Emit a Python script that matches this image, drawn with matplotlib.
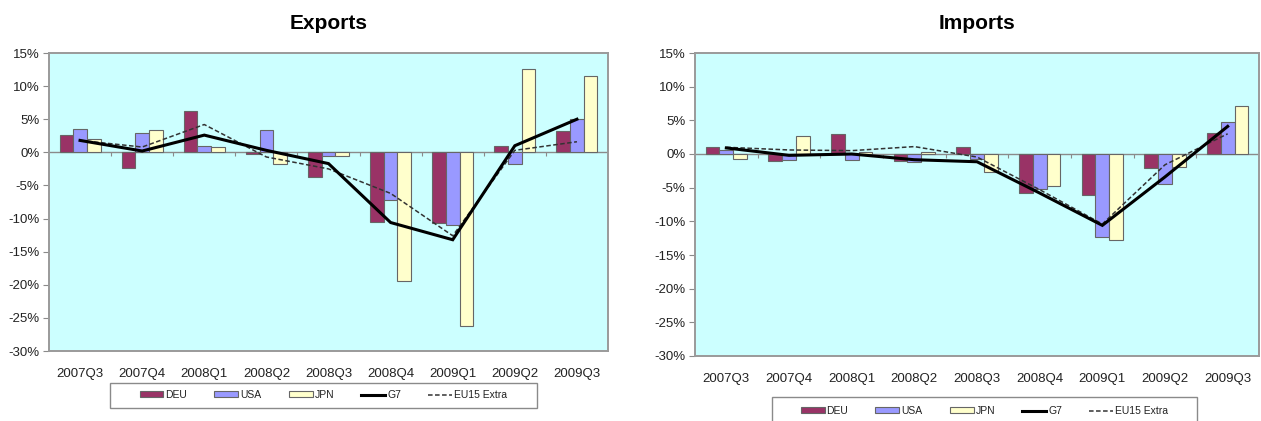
import matplotlib
matplotlib.use("Agg")
import matplotlib.pyplot as plt
from matplotlib.patches import Rectangle, Patch
from matplotlib.lines import Line2D
from matplotlib.ticker import FuncFormatter
import numpy as np

plt.rcParams["font.family"] = ["Liberation Sans", "DejaVu Sans"]

quarters = ["2007Q3", "2007Q4", "2008Q1", "2008Q2", "2008Q3",
            "2008Q4", "2009Q1", "2009Q2", "2009Q3"]

# Quarter-on-quarter growth, per cent
exp_deu = [2.6, -2.3, 6.3, -0.2, -3.7, -10.5, -10.7, 0.9, 3.2]
exp_usa = [3.5, 2.9, 1.0, 3.3, -0.5, -7.2, -10.9, -1.7, 5.0]
exp_jpn = [2.0, 3.3, 0.8, -1.8, -0.55, -19.4, -26.3, 12.6, 11.6]
exp_g7 = [1.8, 0.2, 2.6, 0.3, -1.7, -10.6, -13.2, 1.0, 5.0]
exp_eu15 = [1.8, 0.8, 4.2, -0.7, -2.5, -6.2, -12.6, 0.3, 1.6]

imp_deu = [1.0, -1.0, 3.0, -1.0, 1.1, -5.8, -6.1, -2.1, 3.1]
imp_usa = [0.6, -0.9, -0.9, -1.2, -0.7, -5.2, -12.3, -4.4, 4.75]
imp_jpn = [-0.7, 2.7, 0.25, 0.25, -2.7, -4.8, -12.7, -1.9, 7.2]
imp_g7 = [0.9, -0.2, 0.0, -0.85, -1.15, -5.8, -10.6, -3.4, 4.1]
imp_eu15 = [1.0, 0.6, 0.5, 1.1, -0.45, -5.3, -10.4, -1.6, 3.0]

C_DEU = "#993366"
C_USA = "#9999FF"
C_JPN = "#FFFFCC"
BG = "#CCFFFF"
FRAME = "#9a9a9a"
TXT = "#222222"

W, H = 1261, 421
fig = plt.figure(figsize=(W / 100, H / 100), dpi=100)


def fx(px):
    return px / W


def fy(py):
    return 1 - py / H


def panel(rect, title, deu, usa, jpn, g7, eu15):
    ax = fig.add_axes(rect)
    ax.set_facecolor(BG)
    x = np.arange(len(quarters))
    bw = 0.22
    for off, vals, col in ((-bw, deu, C_DEU), (0, usa, C_USA), (bw, jpn, C_JPN)):
        ax.bar(x + off, vals, width=bw, color=col, edgecolor="#666666",
               linewidth=0.8, zorder=3)
    ax.axhline(0, color="#8a8a8a", lw=1.0, zorder=2)
    ax.vlines(x[:-1] + 0.5, -0.55, 0, color="#8a8a8a", lw=0.8, zorder=2)
    ax.plot(x, g7, color="black", lw=2.2, zorder=5, solid_joinstyle="miter")
    ax.plot(x, eu15, color="#333333", lw=1.1, ls=(0, (3, 1.6)), zorder=4)
    ax.set_xlim(-0.5, len(quarters) - 0.5)
    ax.set_ylim(-30, 15)
    ax.set_yticks(np.arange(-30, 16, 5))
    ax.yaxis.set_major_formatter(FuncFormatter(lambda v, p: f"{v:.0f}%"))
    ax.set_xticks(x)
    ax.set_xticklabels(quarters)
    ax.tick_params(axis="x", length=0, pad=12, labelsize=9.5, labelcolor=TXT)
    ax.tick_params(axis="y", length=4, width=0.8, color="#8a8a8a", pad=3,
                   labelsize=9.5, labelcolor=TXT)
    for s in ax.spines.values():
        s.set_color(FRAME)
        s.set_linewidth(1.4)
    ax.set_title(title, fontsize=15, fontweight="bold", pad=17)
    return ax


panel([fx(49), fy(351), fx(608 - 49), fy(53) - fy(351)], "Exports",
      exp_deu, exp_usa, exp_jpn, exp_g7, exp_eu15)
panel([fx(695), fy(356), fx(1259 - 695), fy(53) - fy(356)], "Imports",
      imp_deu, imp_usa, imp_jpn, imp_g7, imp_eu15)

handles = [
    Patch(facecolor=C_DEU, edgecolor="#666666", lw=0.8, label="DEU"),
    Patch(facecolor=C_USA, edgecolor="#666666", lw=0.8, label="USA"),
    Patch(facecolor=C_JPN, edgecolor="#666666", lw=0.8, label="JPN"),
    Line2D([], [], color="black", lw=2.2, label="G7"),
    Line2D([], [], color="#333333", lw=1.1, ls=(0, (3, 1.6)), label="EU15 Extra"),
]


def legend_box(x0, x1, y0, y1, ytext):
    fig.patches.append(Rectangle((fx(x0), fy(y1)), fx(x1 - x0), fy(y0) - fy(y1),
                                 transform=fig.transFigure, facecolor="white",
                                 edgecolor="#8a8a8a", lw=1.0, zorder=0))
    fig.legend(handles=handles, loc="center", ncol=5,
               bbox_to_anchor=(fx((x0 + x1) / 2), fy(ytext)),
               frameon=False, fontsize=7.5, handlelength=2.3,
               handleheight=0.5, handletextpad=0.2, columnspacing=2.6,
               labelcolor=TXT)


legend_box(110, 537, 383, 408, 395)
legend_box(772, 1197, 397, 430, 411)

fig.savefig("out.png", dpi=100, facecolor="white")
